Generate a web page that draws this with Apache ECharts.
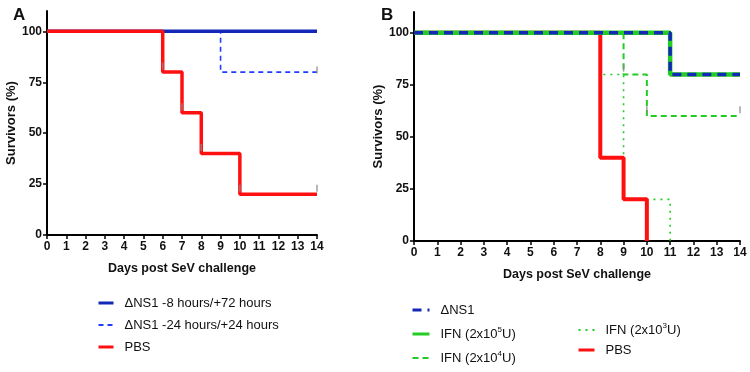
<!DOCTYPE html>
<html>
<head>
<meta charset="utf-8">
<script src="https://cdn.jsdelivr.net/npm/echarts@6/dist/echarts.min.js"></script>
<style>
  html, body { margin: 0; padding: 0; background: #fff; }
  #chart { width: 750px; height: 372px; }
</style>
</head>
<body>
<div id="chart"></div>
<script>
// survival curves, [day, % survivors]
var a_ns1_8_72 = [[0, 100], [14, 100]];
var a_ns1_24_24 = [[0, 100], [9, 80], [14, 80]];
var a_pbs = [[0, 100], [6, 80], [7, 60], [8, 40], [10, 20], [14, 20]];

var b_ns1 = [[0, 100], [11, 80], [14, 80]];
var b_ifn5 = [[0, 100], [11, 80], [14, 80]];
var b_ifn4 = [[0, 100], [9, 80], [10, 60], [14, 60]];
var b_ifn3 = [[0, 100], [8, 80], [9, 20], [11, 0]];
var b_pbs = [[0, 100], [8, 40], [9, 20], [10, 0]];

// censor marks (small grey ticks)
var a_censor = [[6, 83], [7, 63], [8, 43], [10, 23], [14, 23], [14, 81]];
var b_censor = [[9, 83], [10, 63], [14, 63]];

var yTicks = [0, 25, 50, 75, 100];

var chartDom = document.getElementById('chart');
var myChart = echarts.init(chartDom);
var option;

var font = 'Liberation Sans, Arial, sans-serif';

function makeX(idx) {
    return {
        type: 'value',
        gridIndex: idx,
        min: 0,
        max: 14,
        interval: 1,
        name: 'Days post SeV challenge',
        nameLocation: 'middle',
        nameGap: 27,
        nameTextStyle: { fontFamily: font, fontWeight: 'bold', fontSize: 12.5, color: '#111' },
        axisLine: { onZero: false, lineStyle: { color: '#000', width: 2 } },
        axisTick: { show: true, length: 4, lineStyle: { color: '#000', width: 1.5 } },
        axisLabel: { fontFamily: font, fontWeight: 'bold', fontSize: 12, color: '#111', margin: 6 },
        splitLine: { show: false }
    };
}

function makeY(idx) {
    return {
        type: 'value',
        gridIndex: idx,
        min: 0,
        max: 110,
        name: 'Survivors (%)',
        nameLocation: 'middle',
        nameRotate: 90,
        nameGap: 29,
        nameTextStyle: { fontFamily: font, fontWeight: 'bold', fontSize: 13, color: '#111' },
        axisLine: { show: true, lineStyle: { color: '#000', width: 2 } },
        axisTick: { show: true, length: 4, customValues: yTicks, lineStyle: { color: '#000', width: 1.5 } },
        axisLabel: { fontFamily: font, fontWeight: 'bold', fontSize: 12, color: '#111', margin: 5, customValues: yTicks },
        splitLine: { show: false }
    };
}

function stepSeries(name, data, idx, color, width, type, z) {
    return {
        name: name,
        type: 'line',
        step: 'end',
        xAxisIndex: idx,
        yAxisIndex: idx,
        data: data,
        showSymbol: false,
        symbol: 'none',
        z: z,
        lineStyle: { color: color, width: width, type: type },
        itemStyle: { color: color }
    };
}

function censorSeries(data, idx) {
    return {
        type: 'scatter',
        xAxisIndex: idx,
        yAxisIndex: idx,
        data: data,
        symbol: 'rect',
        symbolSize: [1.5, 7],
        z: 6,
        silent: true,
        itemStyle: { color: '#8a8a8a' }
    };
}

var supNames = {
    'IFN (2x10^5U)': 'IFN (2x10{sup|5}U)',
    'IFN (2x10^4U)': 'IFN (2x10{sup|4}U)',
    'IFN (2x10^3U)': 'IFN (2x10{sup|3}U)'
};

var legendText = {
    fontFamily: font,
    fontSize: 13,
    lineHeight: 16,
    color: '#111',
    padding: [0, 0, 0, 6],
    rich: {
        sup: { fontFamily: font, fontSize: 8, lineHeight: 16, color: '#111', verticalAlign: 'top', padding: [0, 0, 6, 0] }
    }
};

function legendFmt(name) {
    return supNames[name] || name;
}

function item(name, width) {
    return { name: name, lineStyle: { width: width } };
}

var legendBase = {
    orient: 'vertical',
    padding: 0,
    itemHeight: 10,
    itemStyle: { opacity: 0 },
    textStyle: legendText,
    formatter: legendFmt
};

option = {
    animation: false,
    title: [
        { text: 'A', left: 8, top: 2, textStyle: { fontFamily: font, fontWeight: 'bold', fontSize: 17, color: '#111' } },
        { text: 'B', left: 376, top: 2, textStyle: { fontFamily: font, fontWeight: 'bold', fontSize: 17, color: '#111' } }
    ],
    grid: [
        { left: 47, right: 433, top: 11, bottom: 137, containLabel: false },
        { left: 414, right: 10, top: 12, bottom: 131, containLabel: false }
    ],
    xAxis: [makeX(0), makeX(1)],
    yAxis: [makeY(0), makeY(1)],
    legend: [
        Object.assign({}, legendBase, {
            left: 97,
            top: 295,
            itemWidth: 15,
            itemGap: 6,
            data: [item('ΔNS1 -8 hours/+72 hours', 3), item('ΔNS1 -24 hours/+24 hours', 2), item('PBS', 3)]
        }),
        Object.assign({}, legendBase, {
            left: 411,
            top: 302,
            itemWidth: 17,
            itemGap: 8,
            data: [item('ΔNS1', 3), item('IFN (2x10^5U)', 3), item('IFN (2x10^4U)', 2)]
        }),
        Object.assign({}, legendBase, {
            left: 577,
            top: 322,
            itemWidth: 16,
            itemGap: 4,
            data: [item('IFN (2x10^3U)', 2), item('PBS', 3)]
        })
    ],
    series: [
        stepSeries('ΔNS1 -24 hours/+24 hours', a_ns1_24_24, 0, '#1f3cff', 1.6, [5, 4], 2),
        stepSeries('ΔNS1 -8 hours/+72 hours', a_ns1_8_72, 0, '#1428b8', 3.5, 'solid', 3),
        stepSeries('PBS', a_pbs, 0, '#ff1010', 3.5, 'solid', 4),
        censorSeries(a_censor, 0),

        stepSeries('IFN (2x10^3U)', b_ifn3, 1, '#22cc22', 1.6, [2, 5], 2),
        stepSeries('IFN (2x10^4U)', b_ifn4, 1, '#22cc22', 2, [6, 4], 2),
        stepSeries('PBS', b_pbs, 1, '#ff1010', 4, 'solid', 3),
        stepSeries('IFN (2x10^5U)', b_ifn5, 1, '#22cc22', 4.5, 'solid', 4),
        stepSeries('ΔNS1', b_ns1, 1, '#1428b8', 3.5, [9, 6], 5),
        censorSeries(b_censor, 1)
    ]
};

option && myChart.setOption(option);
</script>
</body>
</html>
